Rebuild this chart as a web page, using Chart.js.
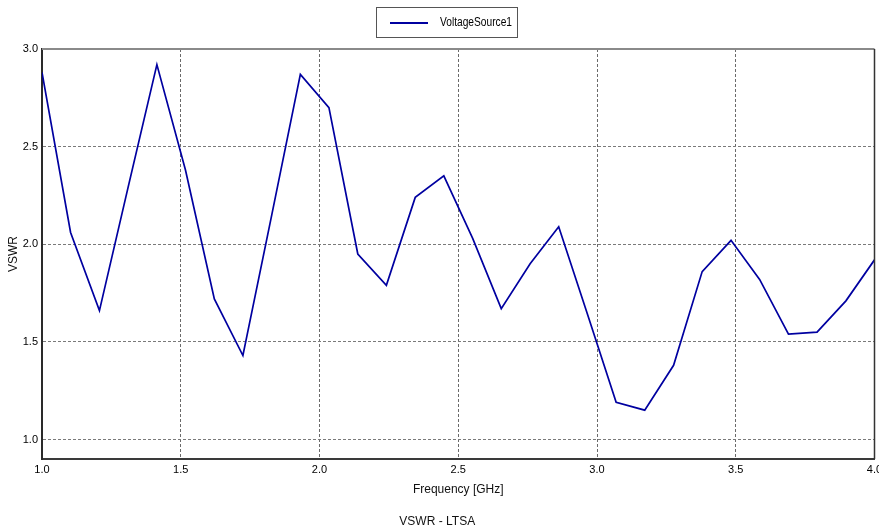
<!DOCTYPE html>
<html>
<head>
<meta charset="utf-8">
<script src="https://cdn.jsdelivr.net/npm/chart.js@4"></script>
<style>
  html, body { margin: 0; padding: 0; background: #fff; }
  #wrap { width: 879px; height: 530px; }
</style>
</head>
<body>
<div id="wrap"><canvas id="vswrChart" width="879" height="530"></canvas></div>
<script>
// frequency points [GHz]
const freqs = [1.000, 1.103, 1.207, 1.310, 1.414, 1.517, 1.621, 1.724, 1.828, 1.931,
               2.034, 2.138, 2.241, 2.345, 2.448, 2.552, 2.655, 2.759, 2.862, 2.966,
               3.069, 3.172, 3.276, 3.379, 3.483, 3.586, 3.690, 3.793, 3.897, 4.000];
// VSWR values
const vswr = [2.88, 2.06, 1.66, 2.29, 2.92, 2.38, 1.72, 1.43, 2.15, 2.87,
              2.70, 1.95, 1.79, 2.24, 2.35, 2.03, 1.67, 1.90, 2.09, 1.64,
              1.19, 1.15, 1.38, 1.86, 2.02, 1.82, 1.54, 1.55, 1.71, 1.92];
const xTicks = [1.0, 1.5, 2.0, 2.5, 3.0, 3.5, 4.0];
const yTicks = [1.0, 1.5, 2.0, 2.5, 3.0];
const seriesName = "VoltageSource1";

const FONT = "'Liberation Sans', Arial, sans-serif";
const LINE_COLOR = "#0000a0";

// frame (top/right edges) and boxed legend
const framePlugin = {
    id: "frame",
    afterDraw(chart) {
        const { ctx, chartArea: a } = chart;
        ctx.save();
        ctx.lineWidth = 2;
        ctx.strokeStyle = "#8a8a8a";
        ctx.beginPath();
        ctx.moveTo(a.left, a.top);
        ctx.lineTo(a.right, a.top);
        ctx.stroke();
        ctx.lineWidth = 1.5;
        ctx.strokeStyle = "#333";
        ctx.beginPath();
        ctx.moveTo(a.right, a.top);
        ctx.lineTo(a.right, a.bottom);
        ctx.stroke();

        // legend box
        ctx.lineWidth = 1;
        ctx.strokeStyle = "#555";
        ctx.strokeRect(376.5, 7.5, 141, 30);
        ctx.strokeStyle = chart.data.datasets[0].borderColor;
        ctx.lineWidth = 2;
        ctx.beginPath();
        ctx.moveTo(390, 23);
        ctx.lineTo(428, 23);
        ctx.stroke();
        // condensed label text
        ctx.fillStyle = "#000";
        ctx.font = "12px " + FONT;
        ctx.textBaseline = "middle";
        ctx.translate(440, 23);
        ctx.scale(0.85, 1);
        ctx.fillText(chart.data.datasets[0].label, 0, 0);
        ctx.restore();
    }
};

const ctx = document.getElementById("vswrChart");

new Chart(ctx, {
    type: "line",
    data: {
        datasets: [
            {
                label: seriesName,
                data: freqs.map((f, i) => ({ x: f, y: vswr[i] })),
                borderColor: LINE_COLOR,
                backgroundColor: LINE_COLOR,
                borderWidth: 1.7,
                pointRadius: 0,
                tension: 0,
                fill: false
            }
        ]
    },
    options: {
        responsive: false,
        animation: false,
        layout: { padding: { top: 49, right: 4.5, left: 0, bottom: 0 } },
        plugins: {
            legend: { display: false },
            tooltip: { enabled: false },
            title: {
                display: true,
                text: "VSWR - LTSA",
                position: "bottom",
                color: "#111",
                font: { family: FONT, size: 12, weight: "normal" },
                padding: { top: 5, bottom: 1 }
            }
        },
        scales: {
            x: {
                type: "linear",
                min: 1,
                max: 4,
                afterBuildTicks: (s) => { s.ticks = xTicks.map(v => ({ value: v })); },
                afterFit: (s) => { s.height = 50.6; s.paddingLeft = 0; s.paddingRight = 0; },
                ticks: {
                    color: "#000",
                    padding: 4,
                    maxRotation: 0,
                    font: { family: FONT, size: 11 },
                    callback: (v) => Number(v).toFixed(1)
                },
                grid: {
                    color: "#6a6a6a",
                    lineWidth: 1,
                    drawTicks: false
                },
                border: { display: true, color: "#3a3a3a", width: 2, dash: [3, 2] },
                title: {
                    display: true,
                    text: "Frequency [GHz]",
                    color: "#111",
                    font: { family: FONT, size: 12 },
                    padding: { top: 0, bottom: 13 }
                }
            },
            y: {
                type: "linear",
                min: 0.9,
                max: 3.0,
                afterBuildTicks: (s) => { s.ticks = yTicks.map(v => ({ value: v })); },
                afterFit: (s) => { s.width = 42; },
                ticks: {
                    color: "#000",
                    padding: 4,
                    font: { family: FONT, size: 11 },
                    callback: (v) => Number(v).toFixed(1)
                },
                grid: {
                    color: "#7a7a7a",
                    lineWidth: 1,
                    drawTicks: false
                },
                border: { display: true, color: "#2a2a2a", width: 2, dash: [3, 2] },
                title: {
                    display: true,
                    text: "VSWR",
                    color: "#111",
                    font: { family: FONT, size: 12 },
                    padding: { top: 6, bottom: 0 }
                }
            }
        }
    },
    plugins: [framePlugin]
});
</script>
</body>
</html>
